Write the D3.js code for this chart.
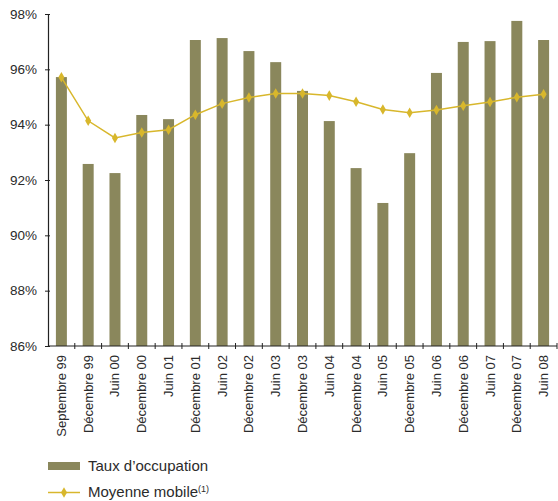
<!DOCTYPE html>
<html>
<head>
<meta charset="utf-8">
<script src="https://cdn.jsdelivr.net/npm/d3@7"></script>
<style>
  html, body { margin: 0; padding: 0; background: #fff; }
  text { font-family: "Liberation Sans Narrow", "Arial Narrow", "Liberation Sans", sans-serif; fill: #2b2b2b; }
</style>
</head>
<body>
<svg id="chart" width="558" height="501"></svg>
<script>
// Periods (half-yearly), occupancy rate and its moving average, in percent
const periods = ["Septembre 99", "Décembre 99", "Juin 00", "Décembre 00", "Juin 01",
  "Décembre 01", "Juin 02", "Décembre 02", "Juin 03", "Décembre 03", "Juin 04",
  "Décembre 04", "Juin 05", "Décembre 05", "Juin 06", "Décembre 06", "Juin 07",
  "Décembre 07", "Juin 08"];
const occupancy = [95.72, 92.58, 92.25, 94.35, 94.2, 97.06, 97.13, 96.66, 96.26, 95.22,
  94.13, 92.43, 91.17, 92.97, 95.87, 96.99, 97.02, 97.75, 97.06];
const movingAverage = [95.71, 94.14, 93.52, 93.72, 93.82, 94.36, 94.76, 94.98, 95.13, 95.13,
  95.05, 94.83, 94.55, 94.43, 94.53, 94.68, 94.82, 94.99, 95.1];
const yTicks = [86, 88, 90, 92, 94, 96, 98];

const svg = d3.select("#chart");
const plot = { left: 48, right: 557, top: 14, bottom: 346 };

const x = d3.scaleBand().domain(periods).range([plot.left, plot.right]).paddingInner(0.59).paddingOuter(0.295);
const xb = d3.scaleBand().domain(periods).range([plot.left, plot.right]);
const y = d3.scaleLinear().domain([86, 98]).range([plot.bottom, plot.top]);

const barColor = "#8a875c";
const lineColor = "#d8b72c";

// Bars
svg.append("g").selectAll("rect").data(occupancy).join("rect")
  .attr("x", (d, i) => x(periods[i]))
  .attr("width", x.bandwidth())
  .attr("y", d => y(d))
  .attr("height", d => y(86) - y(d))
  .attr("fill", barColor);

// Moving average line
const line = d3.line()
  .x((d, i) => xb(periods[i]) + xb.bandwidth() / 2)
  .y(d => y(d));
svg.append("path").datum(movingAverage)
  .attr("d", line).attr("fill", "none")
  .attr("stroke", lineColor).attr("stroke-width", 1.5);

const diamond = d3.symbol().type(d3.symbolDiamond).size(32);
svg.append("g").selectAll("path").data(movingAverage).join("path")
  .attr("d", diamond)
  .attr("transform", (d, i) => `translate(${xb(periods[i]) + xb.bandwidth() / 2},${y(d)})`)
  .attr("fill", lineColor);

// Y axis
const yAxis = svg.append("g").attr("transform", `translate(${plot.left},0)`)
  .call(d3.axisLeft(y).tickValues(yTicks).tickFormat(d => d + "%").tickSize(3).tickPadding(8));
yAxis.select(".domain").attr("stroke", "#222").attr("stroke-width", 1.2);
yAxis.selectAll(".tick line").attr("stroke", "#222").attr("x2", 2).attr("x1", -3);
yAxis.selectAll(".tick text").attr("font-size", 13.5).attr("font-family", null).style("font-family", null);

// X axis: ticks at band boundaries, rotated labels
const xAxis = svg.append("g").attr("transform", `translate(0,${plot.bottom})`);
xAxis.append("line").attr("x1", plot.left).attr("x2", plot.right).attr("stroke", "#222").attr("stroke-width", 1.2);
xAxis.selectAll("line.tk").data(periods).join("line")
  .attr("class", "tk")
  .attr("x1", d => xb(d) + xb.bandwidth())
  .attr("x2", d => xb(d) + xb.bandwidth())
  .attr("y1", -3).attr("y2", 3)
  .attr("stroke", "#222");
xAxis.selectAll("text").data(periods).join("text")
  .attr("transform", d => `translate(${xb(d) + xb.bandwidth() / 2 + 4.5},9) rotate(-90)`)
  .attr("text-anchor", "end")
  .attr("font-size", 13)
  .text(d => d);

// Legend
const legend = svg.append("g");
legend.append("rect").attr("x", 48).attr("y", 462).attr("width", 32).attr("height", 8).attr("fill", barColor);
legend.append("text").attr("x", 88).attr("y", 471).attr("font-size", 15).text("Taux d’occupation");
legend.append("line").attr("x1", 48).attr("x2", 80).attr("y1", 492.5).attr("y2", 492.5)
  .attr("stroke", lineColor).attr("stroke-width", 1.5);
legend.append("path").attr("d", diamond).attr("transform", "translate(64,492.5)").attr("fill", lineColor);
const lt = legend.append("text").attr("x", 88).attr("y", 497).attr("font-size", 15);
lt.append("tspan").text("Moyenne mobile");
lt.append("tspan").attr("dy", -5).attr("font-size", 9).text("(1)");
</script>
</body>
</html>
